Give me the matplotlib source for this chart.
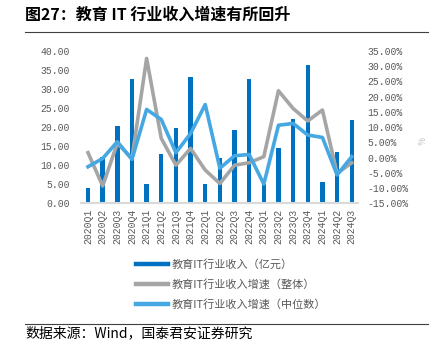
import matplotlib
matplotlib.use("Agg")
import matplotlib.pyplot as plt
from matplotlib.lines import Line2D
import numpy as np

plt.rcParams['font.family'] = ['Noto Sans CJK SC', 'DejaVu Sans']

# data
quarters = ["2020Q1", "2020Q2", "2020Q3", "2020Q4", "2021Q1", "2021Q2", "2021Q3",
            "2021Q4", "2022Q1", "2022Q2", "2022Q3", "2022Q4", "2023Q1", "2023Q2",
            "2023Q3", "2023Q4", "2024Q1", "2024Q2", "2024Q3"]
revenue = [4.0, 12.2, 20.3, 32.5, 5.2, 12.9, 19.7, 33.2, 5.0, 11.8, 19.2, 32.6,
           5.0, 14.4, 22.2, 36.3, 5.7, 13.5, 21.8]
growth_total = [1.6, -9.3, 4.7, -0.3, 32.5, 6.3, -2.5, 3.0, -4.1, -8.5, -2.5, -1.7,
                0.3, 21.9, 16.1, 12.0, 15.6, -5.2, -1.7]
growth_median = [-3.0, -0.3, 5.2, -0.6, 15.8, 12.5, 1.6, 7.9, 17.4, -3.5, 0.6, 1.0,
                 -8.7, 10.6, 11.2, 7.4, 6.6, -5.7, 0.3]

left_ticks = np.arange(0, 45, 5)
right_ticks = np.arange(-15, 40, 5)

c_bar = "#0070C0"
c_gray = "#A5A5A5"
c_light = "#45A8E2"
c_text = "#595959"
num_font = "Liberation Mono"

fig = plt.figure(figsize=(4.34, 3.53), dpi=100)
ax = fig.add_axes([0.1866, 0.424, 0.638, 0.432])
x = np.arange(len(quarters))

ax.bar(x, revenue, width=0.3, color=c_bar, zorder=2)
ax.set_xlim(-0.48, 18.42)
ax.set_ylim(0, 40)
ax.set_yticks(left_ticks)
ax.set_yticklabels([f"{v:.2f}" for v in left_ticks], fontsize=7,
                   color=c_text, family=num_font)
ax.set_xticks(x)
ax.set_xticklabels(quarters, rotation=90, fontsize=7, color=c_text, family=num_font)
ax.tick_params(axis="both", length=0)
ax.tick_params(axis="y", pad=8)
ax.tick_params(axis="x", pad=4)
for s in ["top", "left", "right"]:
    ax.spines[s].set_visible(False)
ax.spines["bottom"].set_color("#D9D9D9")
ax.spines["bottom"].set_linewidth(1.5)

ax2 = ax.twinx()
ax2.plot(x, growth_total, color=c_gray, lw=2.6, zorder=3)
ax2.plot(x, growth_median, color=c_light, lw=2.6, zorder=4)
ax2.set_ylim(-15, 35)
ax2.set_yticks(right_ticks)
ax2.set_yticklabels([f"{v:.2f}%" for v in right_ticks], fontsize=7,
                    color=c_text, family=num_font)
ax2.tick_params(axis="y", length=0, pad=7)
for s in ax2.spines.values():
    s.set_visible(False)

fig.text(0.965, 0.60, "%", rotation=270, fontsize=6, color="#BFBFBF",
         ha="center", va="center")

handles = [Line2D([], [], color=c_bar, lw=3.2),
           Line2D([], [], color=c_gray, lw=3.2),
           Line2D([], [], color=c_light, lw=3.2)]
labels = ["教育IT行业收入（亿元）", "教育IT行业收入增速（整体）", "教育IT行业收入增速（中位数）"]
fig.legend(handles, labels, loc="upper left", bbox_to_anchor=(0.30, 0.283),
           frameon=False, fontsize=8, labelcolor=c_text, handlelength=2.9,
           handletextpad=0.3, labelspacing=0.85, borderpad=0)

# title, source and separator lines
fig.text(0.058, 0.957, "图27：教育 IT 行业收入增速有所回升", fontsize=11.5,
         fontweight="bold", va="center", ha="left")
fig.add_artist(Line2D([0.058, 0.986], [0.909, 0.909], color="#404040", lw=0.8))
fig.add_artist(Line2D([0.058, 0.986], [0.082, 0.082], color="#404040", lw=0.8))
fig.text(0.058, 0.057, "数据来源：Wind，国泰君安证券研究", fontsize=10,
         va="center", ha="left")

fig.savefig("out.png", dpi=100)
